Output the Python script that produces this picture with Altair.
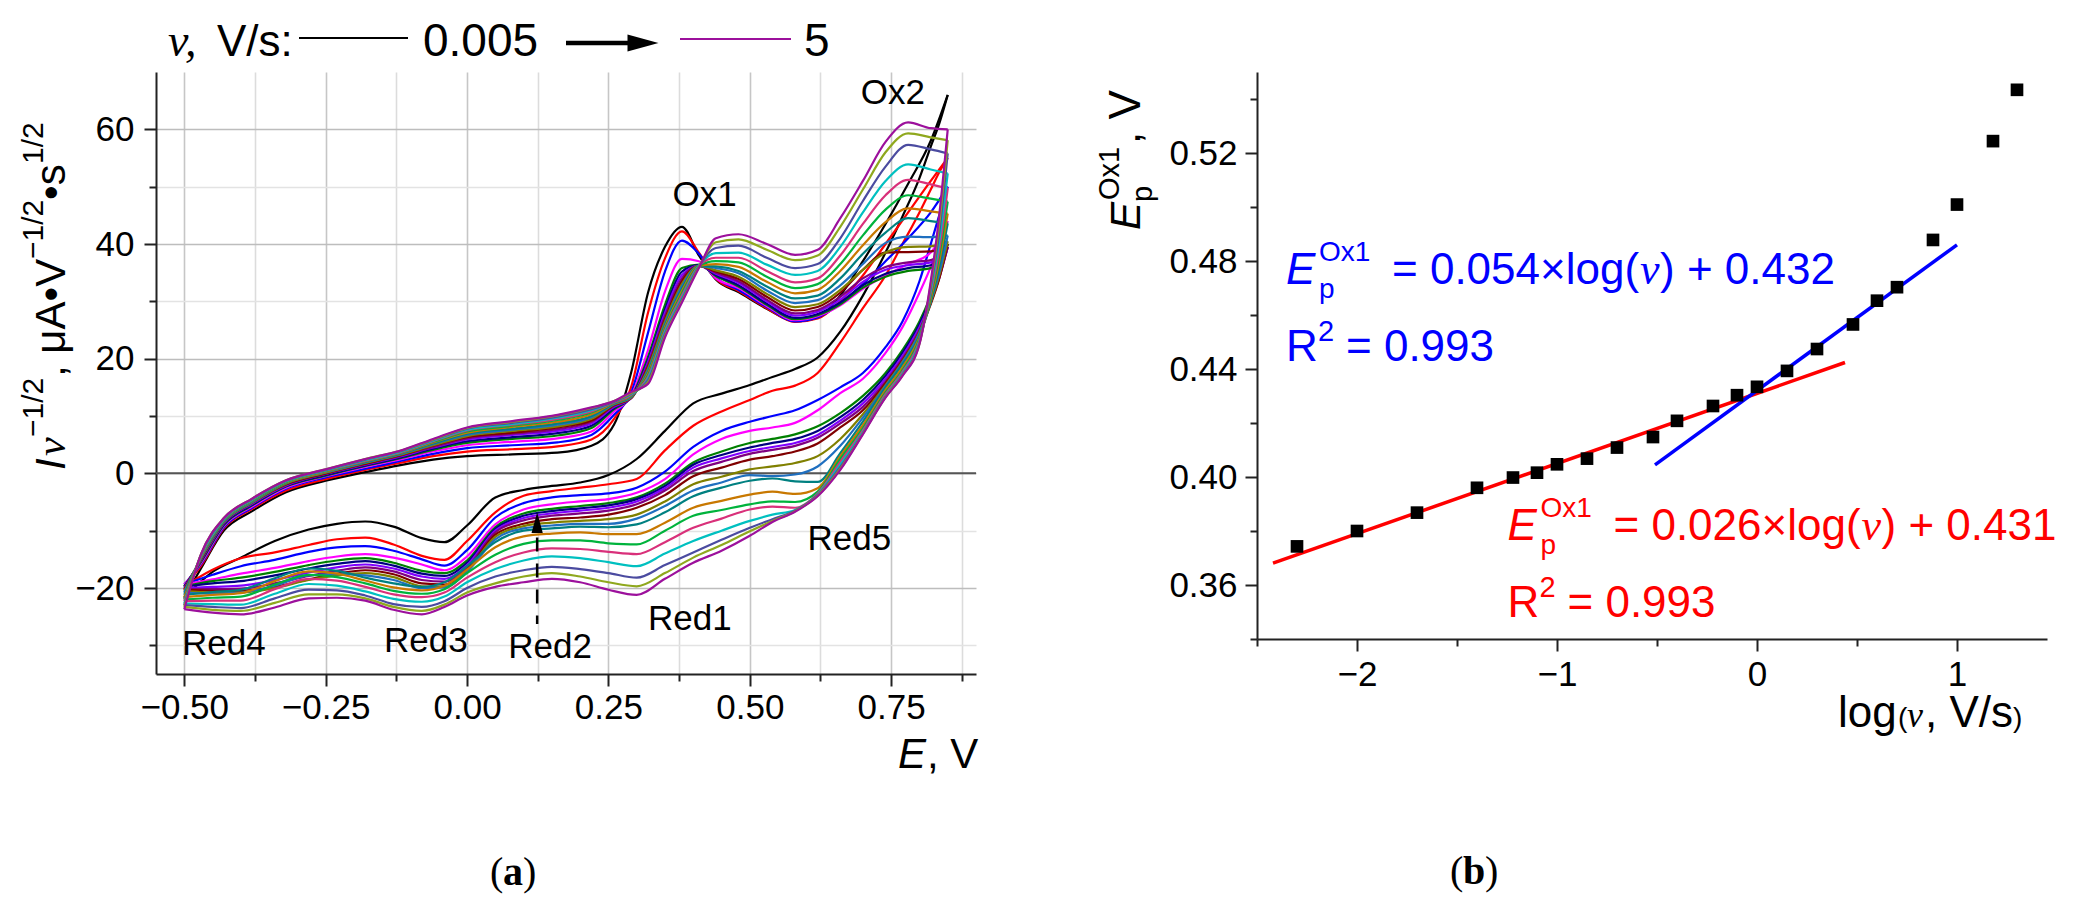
import pandas as pd
import altair as alt

SANS = "Liberation Sans"
SERIF = "Liberation Serif"

# ---------- panel (a): CVs, I*v^-1/2 vs E ----------
E_FWD = [-0.5, -0.47, -0.43, -0.38, -0.32, -0.25, -0.18, -0.12, -0.06, 0.0, 0.08, 0.16, 0.22, 0.26, 0.29,
         0.32, 0.35, 0.38, 0.41, 0.44, 0.48, 0.53, 0.58, 0.62, 0.66, 0.7, 0.74, 0.78, 0.82, 0.85]
E_REV = [0.85, 0.835, 0.82, 0.8, 0.77, 0.74, 0.7, 0.66, 0.62, 0.58, 0.54, 0.5, 0.45, 0.4, 0.35, 0.3, 0.25,
         0.2, 0.15, 0.1, 0.05, 0.0, -0.04, -0.08, -0.13, -0.18, -0.23, -0.28, -0.34, -0.4, -0.45, -0.5]

RATES = ["0.005", "0.01", "0.02", "0.04", "0.06", "0.08", "0.1", "0.14", "0.2", "0.3",
         "0.4", "0.6", "0.8", "1", "1.4", "2", "3", "4", "5"]
COLORS = ["#000000", "#ff0000", "#0000ff", "#ff00ff", "#008000", "#000080", "#8000ff", "#800080",
          "#800000", "#808000", "#1f6fbf", "#008080", "#c87800", "#00b33c", "#d9307a", "#00c0c0",
          "#4b4ba0", "#8fa81e", "#9c109c"]

# forward (anodic) sweeps, one per scan rate
fwd_0005 = [-21.7, -16.5, -10.0, -6.6, -3.3, -1.3, 0.2, 1.4, 2.4, 3.0, 3.3, 3.6, 4.8, 8.5, 17.5, 31.5, 39.5, 43.0, 38.0, 33.8, 31.6, 28.7, 26.5, 27.2, 31.0, 37.0, 43.5, 50.5, 58.0, 66.0]
fwd_001 = [-19.7, -16.1, -9.6, -6.2, -3.0, -1.0, 0.6, 1.8, 3.0, 3.8, 4.2, 4.7, 5.9, 9.5, 15.0, 28.0, 37.5, 42.2, 38.5, 34.0, 31.8, 28.8, 26.4, 27.0, 30.0, 34.5, 40.0, 45.5, 51.0, 55.0]
fwd_002 = [-19.4, -15.8, -9.4, -6.0, -2.7, -0.7, 0.8, 2.1, 3.4, 4.4, 4.9, 5.4, 6.7, 10.2, 14.0, 24.5, 35.2, 40.6, 38.3, 34.2, 32.0, 29.0, 26.5, 27.2, 29.6, 33.0, 37.0, 41.0, 45.5, 50.0]
fwd_004 = [-19.4, -15.6, -9.2, -5.8, -2.5, -0.5, 1.1, 2.4, 3.8, 4.9, 5.5, 6.1, 7.3, 10.8, 13.5, 21.5, 31.7, 37.4, 37.0, 34.0, 32.3, 29.2, 26.7, 27.4, 29.3, 32.2, 34.5, 36.5, 38.5, 44.0]
fwd_006 = [-19.7, -15.4, -9.0, -5.6, -2.3, -0.4, 1.3, 2.6, 4.1, 5.3, 6.0, 6.6, 7.9, 11.2, 13.3, 20.3, 29.4, 35.8, 36.4, 34.4, 32.6, 29.4, 26.9, 27.6, 29.5, 32.4, 34.3, 35.3, 35.8, 40.0]
fwd_008 = [-19.8, -15.2, -8.9, -5.5, -2.2, -0.3, 1.4, 2.7, 4.3, 5.6, 6.3, 7.0, 8.3, 11.4, 13.2, 19.8, 28.6, 35.2, 36.3, 34.6, 32.8, 29.6, 27.1, 27.8, 29.8, 32.8, 34.8, 35.8, 36.3, 39.5]
fwd_01 = [-20.0, -15.1, -8.7, -5.3, -2.1, -0.1, 1.5, 2.9, 4.5, 5.9, 6.7, 7.4, 8.7, 11.6, 13.1, 19.4, 28.0, 34.6, 36.2, 34.8, 33.2, 30.0, 27.5, 28.2, 30.3, 33.4, 35.5, 36.3, 36.8, 39.5]
fwd_014 = [-20.2, -15.0, -8.6, -5.2, -2.0, -0.1, 1.6, 3.0, 4.6, 6.1, 6.9, 7.7, 9.0, 11.8, 13.1, 19.0, 27.4, 34.0, 36.2, 35.0, 33.5, 30.3, 27.9, 28.5, 30.8, 34.0, 36.0, 36.8, 37.2, 39.5]
fwd_02 = [-20.3, -14.9, -8.5, -5.1, -1.9, 0.0, 1.7, 3.1, 4.8, 6.3, 7.1, 8.0, 9.2, 11.9, 13.1, 18.6, 26.9, 33.5, 36.2, 35.2, 33.9, 30.8, 28.4, 29.0, 31.5, 35.5, 38.5, 38.6, 38.7, 40.0]
fwd_03 = [-20.5, -14.8, -8.5, -5.1, -1.8, 0.1, 1.8, 3.2, 4.9, 6.5, 7.4, 8.2, 9.5, 12.0, 13.2, 18.3, 26.5, 33.0, 36.2, 35.4, 34.3, 31.3, 29.0, 29.5, 32.0, 35.5, 38.5, 39.5, 39.6, 40.5]
fwd_04 = [-20.8, -14.7, -8.4, -5.0, -1.7, 0.2, 1.9, 3.3, 5.1, 6.7, 7.6, 8.5, 9.8, 12.1, 13.3, 18.0, 26.1, 32.6, 36.2, 35.8, 34.9, 31.9, 29.7, 30.2, 32.8, 36.5, 40.2, 41.3, 41.2, 41.5]
fwd_06 = [-21.2, -14.6, -8.3, -4.9, -1.7, 0.3, 2.0, 3.4, 5.2, 6.9, 7.8, 8.7, 10.0, 12.2, 13.4, 17.7, 25.8, 32.2, 36.2, 36.1, 35.3, 32.6, 30.5, 31.0, 34.0, 38.3, 42.0, 44.5, 44.0, 43.6]
fwd_08 = [-21.6, -14.5, -8.2, -4.8, -1.6, 0.3, 2.1, 3.5, 5.4, 7.1, 8.1, 9.0, 10.3, 12.3, 13.5, 17.4, 25.5, 31.8, 36.2, 36.5, 36.0, 33.4, 31.4, 32.0, 35.3, 39.8, 43.8, 46.2, 45.7, 45.3]
fwd_1 = [-22.0, -14.4, -8.1, -4.7, -1.5, 0.4, 2.2, 3.6, 5.5, 7.3, 8.3, 9.3, 10.6, 12.4, 13.6, 17.1, 25.2, 31.4, 36.2, 37.0, 36.8, 34.3, 32.3, 33.0, 36.5, 41.5, 46.0, 48.5, 47.9, 47.4]
fwd_14 = [-22.3, -14.3, -8.0, -4.6, -1.4, 0.5, 2.2, 3.6, 5.6, 7.5, 8.5, 9.5, 10.8, 12.4, 13.7, 16.8, 24.9, 31.0, 36.2, 37.6, 37.6, 35.3, 33.3, 34.0, 38.0, 43.5, 48.5, 51.2, 50.4, 49.7]
fwd_2 = [-22.7, -14.2, -8.0, -4.6, -1.4, 0.5, 2.3, 3.7, 5.7, 7.6, 8.6, 9.7, 11.0, 12.5, 13.8, 16.5, 24.6, 30.6, 36.2, 38.4, 38.5, 36.4, 34.6, 35.3, 39.5, 45.5, 51.0, 53.9, 53.0, 52.3]
fwd_3 = [-23.0, -14.1, -7.9, -4.5, -1.3, 0.6, 2.4, 3.8, 5.8, 7.8, 8.8, 9.9, 11.2, 12.5, 13.9, 16.2, 24.3, 30.3, 36.1, 39.3, 39.7, 37.6, 35.8, 36.5, 41.0, 47.5, 53.5, 57.3, 56.5, 55.8]
fwd_4 = [-23.3, -14.0, -7.8, -4.4, -1.2, 0.7, 2.5, 3.9, 5.9, 7.9, 9.0, 10.1, 11.4, 12.6, 14.0, 15.9, 24.0, 30.0, 36.0, 40.3, 40.8, 39.0, 37.2, 38.0, 43.0, 49.5, 56.0, 59.3, 58.6, 58.1]
fwd_5 = [-23.7, -14.0, -7.8, -4.4, -1.2, 0.7, 2.5, 3.9, 6.0, 8.0, 9.1, 10.2, 11.5, 12.6, 14.2, 15.6, 23.7, 29.8, 35.8, 41.0, 41.7, 40.0, 38.1, 39.0, 44.5, 51.0, 57.8, 61.2, 60.2, 60.0]

# reverse (cathodic) sweeps
rev_0005 = [66.0, 61.0, 57.0, 51.5, 44.8, 38.5, 31.0, 24.7, 20.2, 18.2, 16.8, 15.4, 13.9, 12.2, 7.4, 2.5, -0.3, -1.6, -2.2, -2.9, -4.2, -9.1, -12.0, -11.3, -9.3, -8.4, -8.8, -9.8, -11.8, -14.7, -17.2, -21.7]
rev_001 = [55.0, 52.5, 49.5, 45.5, 40.0, 34.5, 28.8, 22.8, 17.5, 15.3, 14.4, 12.8, 10.8, 8.3, 4.0, -1.0, -1.9, -2.5, -3.1, -3.9, -6.8, -11.8, -15.1, -14.4, -12.4, -11.2, -11.5, -12.5, -13.8, -14.8, -16.8, -19.7]
rev_002 = [50.0, 45.0, 40.0, 33.5, 26.5, 22.0, 17.5, 15.0, 12.8, 11.0, 10.0, 9.0, 7.4, 4.6, 0.3, -2.5, -3.5, -3.8, -4.2, -5.2, -7.7, -13.4, -16.1, -15.0, -13.5, -12.7, -12.9, -13.7, -15.1, -16.2, -17.7, -19.4]
rev_004 = [44.0, 40.0, 36.0, 31.5, 25.5, 21.0, 16.5, 14.0, 11.0, 8.8, 8.0, 7.4, 6.0, 3.3, -1.0, -3.4, -4.5, -4.9, -5.4, -6.3, -8.9, -14.5, -16.9, -15.9, -14.7, -14.1, -14.5, -15.3, -16.5, -17.5, -18.5, -19.4]
rev_006 = [40.0, 35.0, 31.0, 26.5, 21.5, 17.5, 13.5, 10.5, 8.2, 6.8, 6.0, 5.3, 3.8, 1.9, -1.8, -4.2, -5.2, -5.7, -6.2, -7.0, -9.4, -15.2, -17.4, -17.0, -15.6, -14.8, -15.2, -16.0, -17.2, -18.2, -18.8, -19.7]
rev_008 = [39.5, 34.5, 30.5, 26.0, 21.0, 17.0, 12.8, 9.8, 7.4, 6.0, 5.3, 4.5, 3.2, 1.5, -2.2, -4.5, -5.6, -6.1, -6.6, -7.4, -9.7, -15.6, -17.9, -17.5, -16.1, -15.3, -15.8, -16.6, -17.8, -18.8, -19.2, -19.8]
rev_01 = [39.5, 34.2, 30.0, 25.5, 20.5, 16.5, 12.2, 9.2, 6.7, 5.3, 4.6, 3.9, 2.6, 1.0, -2.6, -4.9, -6.0, -6.5, -7.0, -7.8, -10.0, -16.0, -18.4, -18.0, -16.6, -15.9, -16.4, -17.3, -18.6, -19.6, -19.8, -20.0]
rev_014 = [39.5, 34.0, 29.8, 25.0, 20.0, 16.0, 11.6, 8.7, 6.2, 4.8, 4.1, 3.4, 2.0, 0.4, -3.0, -5.4, -6.5, -7.0, -7.4, -8.2, -10.3, -16.4, -18.9, -18.6, -17.1, -16.4, -17.0, -17.9, -19.2, -20.1, -20.2, -20.2]
rev_02 = [40.0, 34.0, 29.5, 24.7, 19.7, 15.7, 11.0, 8.0, 5.2, 3.8, 3.0, 2.4, 1.0, -0.5, -3.8, -6.0, -7.2, -7.7, -8.0, -8.8, -10.7, -16.8, -19.4, -19.2, -17.6, -16.9, -17.5, -18.5, -19.8, -20.5, -20.5, -20.3]
rev_03 = [40.5, 34.5, 29.8, 24.6, 19.5, 15.4, 10.3, 6.0, 3.0, 1.8, 1.2, 0.7, -0.6, -1.9, -4.9, -7.2, -8.0, -8.3, -8.6, -9.2, -11.1, -17.0, -19.8, -19.7, -18.1, -17.4, -17.8, -18.6, -20.0, -20.8, -20.8, -20.5]
rev_04 = [41.5, 35.0, 30.0, 24.5, 19.3, 15.2, 9.7, 4.8, 1.2, -0.2, -0.5, -0.3, -1.6, -3.0, -5.7, -7.9, -8.8, -8.8, -9.1, -9.6, -11.5, -17.2, -19.9, -20.0, -18.6, -17.8, -17.6, -17.8, -19.6, -20.8, -21.0, -20.8]
rev_06 = [43.6, 36.0, 30.0, 24.0, 19.0, 15.0, 9.0, 3.5, -1.5, -1.4, -0.9, -1.3, -2.5, -4.0, -6.8, -8.9, -9.4, -9.3, -9.6, -10.0, -12.0, -16.2, -19.0, -19.8, -19.2, -18.2, -17.0, -16.6, -18.3, -20.3, -20.7, -21.2]
rev_08 = [45.3, 37.0, 30.5, 23.8, 18.5, 14.5, 8.4, 3.0, -2.6, -3.6, -3.2, -3.7, -4.8, -6.0, -8.6, -10.6, -10.6, -10.3, -10.5, -11.0, -12.9, -16.8, -19.6, -20.4, -19.9, -18.7, -17.5, -17.1, -18.8, -20.9, -21.2, -21.6]
rev_1 = [47.4, 38.0, 31.0, 23.5, 18.0, 14.1, 7.9, 2.5, -3.2, -5.0, -4.9, -5.4, -6.4, -7.4, -10.0, -12.4, -12.2, -11.7, -11.7, -12.3, -14.2, -17.4, -20.2, -21.0, -20.5, -19.2, -18.1, -17.7, -19.4, -21.5, -21.7, -22.0]
rev_14 = [49.7, 39.0, 31.5, 23.2, 17.7, 13.8, 7.5, 2.0, -3.5, -6.0, -5.8, -6.3, -7.9, -9.5, -12.0, -14.1, -13.7, -13.2, -13.1, -13.8, -15.5, -18.2, -20.8, -21.6, -21.1, -19.8, -18.7, -18.4, -20.2, -22.2, -22.2, -22.3]
rev_2 = [52.3, 40.5, 32.0, 23.0, 17.4, 13.5, 7.2, 1.5, -3.7, -6.4, -7.2, -8.3, -10.0, -11.8, -14.0, -16.2, -15.5, -14.8, -14.5, -15.2, -16.7, -19.0, -21.5, -22.4, -21.9, -20.6, -19.6, -19.3, -21.0, -22.9, -22.8, -22.7]
rev_3 = [55.8, 42.0, 32.5, 22.8, 17.2, 13.4, 7.0, 1.1, -3.8, -6.5, -8.0, -9.5, -11.6, -13.8, -16.0, -18.2, -17.4, -16.7, -16.3, -16.9, -18.0, -20.0, -22.3, -23.3, -22.8, -21.3, -20.4, -20.3, -21.8, -23.5, -23.3, -23.0]
rev_4 = [58.1, 43.5, 33.0, 22.6, 17.1, 13.3, 6.9, 0.8, -3.9, -6.6, -8.3, -10.1, -12.5, -14.7, -17.4, -19.7, -19.0, -18.0, -17.4, -18.0, -19.2, -20.8, -22.9, -24.0, -23.3, -21.8, -21.1, -21.1, -22.6, -24.0, -23.8, -23.3]
rev_5 = [60.0, 45.0, 33.5, 22.5, 17.0, 13.2, 6.8, 0.6, -4.0, -6.7, -8.5, -10.9, -13.5, -15.6, -18.4, -21.2, -20.3, -19.0, -18.4, -19.0, -19.8, -21.3, -23.3, -24.6, -23.8, -22.2, -21.7, -21.8, -23.4, -24.6, -24.3, -23.7]

FWD = [fwd_0005, fwd_001, fwd_002, fwd_004, fwd_006, fwd_008, fwd_01, fwd_014, fwd_02, fwd_03,
       fwd_04, fwd_06, fwd_08, fwd_1, fwd_14, fwd_2, fwd_3, fwd_4, fwd_5]
REV = [rev_0005, rev_001, rev_002, rev_004, rev_006, rev_008, rev_01, rev_014, rev_02, rev_03,
       rev_04, rev_06, rev_08, rev_1, rev_14, rev_2, rev_3, rev_4, rev_5]

# ---------- panel (b): peak potential of Ox1 vs log(v) ----------
LOGV = [-2.3, -2.0, -1.7, -1.4, -1.22, -1.1, -1.0, -0.85, -0.7, -0.52, -0.4, -0.22, -0.1, 0.0,
        0.15, 0.3, 0.48, 0.6, 0.7, 0.88, 1.0, 1.18, 1.3]
EP = [0.3743, 0.380, 0.3868, 0.396, 0.3998, 0.4016, 0.4047, 0.4068, 0.4109, 0.4148, 0.4208, 0.4263,
      0.4303, 0.4334, 0.4393, 0.4474, 0.4565, 0.4653, 0.4703, 0.4878, 0.5009, 0.5244, 0.5434]
FIT_SLOW_X = [-2.42, 0.44]
FIT_SLOW_Y = [0.3681, 0.4424]
FIT_FAST_X = [-0.51, 1.0]
FIT_FAST_Y = [0.4045, 0.486]

rows = []
for rate, f, r in zip(RATES, FWD, REV):
    assert len(f) == len(E_FWD) and len(r) == len(E_REV), rate
    rows += [{"E": e, "I": i, "rate": rate, "sweep": "fwd"} for e, i in zip(E_FWD, f)]
    rows += [{"E": e, "I": i, "rate": rate, "sweep": "rev"} for e, i in zip(E_REV, r)]
cv = pd.DataFrame(rows)


def piece(s, x, y, size, font=SANS, style="normal", weight="normal", color="black",
          align="left", baseline="alphabetic", angle=0, dx=0, dy=0):
    return alt.Chart(pd.DataFrame({"t": [s]})).mark_text(
        font=font, fontSize=size, fontStyle=style, fontWeight=weight, color=color,
        align=align, baseline=baseline, angle=angle, dx=dx, dy=dy
    ).encode(x=x, y=y, text="t:N")


def px(v):
    return alt.value(v)


def one():
    return alt.Chart(pd.DataFrame({"k": [0]}))


AX = dict(labelFont=SANS, labelFontSize=35, labelColor="black", domainColor="#222222", domainWidth=2,
          tickColor="#222222", tickWidth=2, labelFlush=False, labelOverlap=False, title=None)

MAJ_X = "abs(datum.value*4 - round(datum.value*4)) < 0.001"
MAJ_Y = "datum.value % 20 == 0"

x_left = alt.Axis(
    values=[-0.5, -0.375, -0.25, -0.125, 0.0, 0.125, 0.25, 0.375, 0.5, 0.625, 0.75, 0.875],
    labelExpr=MAJ_X + " ? replace(format(datum.value, '.2f'), '-', '\u2212') : ''",
    tickSize={"condition": {"test": MAJ_X, "value": 12}, "value": 7},
    grid=True, gridWidth=1.6,
    gridColor={"condition": {"test": MAJ_X, "value": "#c6c6c6"}, "value": "#dcdcdc"},
    labelPadding=4, **AX)
y_left = alt.Axis(
    values=[-30, -20, -10, 0, 10, 20, 30, 40, 50, 60],
    labelExpr=MAJ_Y + " ? replace(format(datum.value, 'd'), '-', '\u2212') : ''",
    tickSize={"condition": {"test": MAJ_Y, "value": 12}, "value": 7},
    grid=True, gridWidth=1.6,
    gridColor={"condition": {"test": MAJ_Y, "value": "#bdbdbd"}, "value": "#e3e3e3"},
    labelPadding=10, **AX)

zero = one().mark_rule(color="#555555", strokeWidth=2).encode(y=alt.Y(datum=0))

curves = alt.Chart(cv).mark_line(strokeWidth=2.2, interpolate="monotone").encode(
    x=alt.X("E:Q", scale=alt.Scale(domain=[-0.55, 0.9], nice=False, zero=False), axis=x_left),
    y=alt.Y("I:Q", scale=alt.Scale(domain=[-35, 70], nice=False, zero=False), axis=y_left),
    color=alt.Color("rate:N", scale=alt.Scale(domain=RATES, range=COLORS), legend=None),
    detail="sweep:N",
)

peak_labels = [
    piece("Ox1", alt.X(datum=0.42), alt.Y(datum=46.7), 35, align="center"),
    piece("Ox2", alt.X(datum=0.753), alt.Y(datum=64.5), 35, align="center"),
    piece("Red4", alt.X(datum=-0.43), alt.Y(datum=-31.7), 35, align="center"),
    piece("Red3", alt.X(datum=-0.073), alt.Y(datum=-31.2), 35, align="center"),
    piece("Red2", alt.X(datum=0.147), alt.Y(datum=-32.2), 35, align="center"),
    piece("Red1", alt.X(datum=0.394), alt.Y(datum=-27.3), 35, align="center"),
    piece("Red5", alt.X(datum=0.676), alt.Y(datum=-13.3), 35, align="center"),
]

red2_head = one().mark_point(shape="M-0.55,1L0,-1L0.55,1Z", filled=True, size=420, color="black",
                             opacity=1, strokeWidth=0).encode(x=alt.X(datum=0.124), y=alt.Y(datum=-8.6))
red2_stem = one().mark_rule(color="black", strokeWidth=2.5, strokeDash=[14, 12]).encode(
    x=alt.X(datum=0.124), y=alt.Y(datum=-11.2), y2=alt.Y2(datum=-26.3))

# scan-rate key above the plot
key = [
    piece("v,", px(12), px(-16), 46, font=SERIF, style="italic"),
    piece("V/s:", px(61), px(-16), 44),
    one().mark_rule(color="black", strokeWidth=2).encode(x=px(143), x2=px(252), y=px(-34)),
    piece("0.005", px(267), px(-16), 46),
    one().mark_rule(color="black", strokeWidth=4.5).encode(x=px(410), x2=px(480), y=px(-29)),
    one().mark_point(shape="M-1,-0.55L1,0L-1,0.55Z", filled=True, size=960, color="black",
                     opacity=1, strokeWidth=0).encode(x=px(487), y=px(-29)),
    one().mark_rule(color="#9c109c", strokeWidth=2).encode(x=px(524), x2=px(635), y=px(-33)),
    piece("5", px(648), px(-16), 46),
]

# y title:  I v^-1/2 , uA V^-1/2 s^1/2  (rotated)
ytitle_a = [
    piece("I", px(-91), px(398), 42, style="italic", angle=270),
    piece("v", px(-91), px(384), 42, font=SERIF, style="italic", angle=270),
    piece("\u22121/2", px(-113), px(365), 30, angle=270),
    piece(", \u03bcA\u2022V", px(-91), px(305), 42, angle=270),
    piece("\u22121/2", px(-113), px(187), 30, angle=270),
    piece("\u2022s", px(-91), px(128), 42, angle=270),
    piece("1/2", px(-113), px(92), 30, angle=270),
]
xtitle_a = [
    piece("E", px(742), px(696), 42, style="italic"),
    piece(", V", px(771), px(696), 42),
]
tag_a = [
    piece("(", px(334), px(813), 40, font=SERIF),
    piece("a", px(347), px(813), 40, font=SERIF, weight="bold"),
    piece(")", px(367), px(813), 40, font=SERIF),
]

left = alt.layer(zero, curves, *peak_labels, red2_head, red2_stem, *key, *ytitle_a, *xtitle_a, *tag_a
                 ).properties(width=820, height=602)

# ---------- panel (b) ----------
MAJ_XB = "abs(datum.value - round(datum.value)) < 0.001"
MAJ_YB = "abs((datum.value - 0.36)/0.04 - round((datum.value - 0.36)/0.04)) < 0.001"
x_right = alt.Axis(
    values=[-2.5, -2.0, -1.5, -1.0, -0.5, 0.0, 0.5, 1.0],
    labelExpr=MAJ_XB + " ? replace(format(datum.value, 'd'), '-', '\u2212') : ''",
    tickSize={"condition": {"test": MAJ_XB, "value": 12}, "value": 7},
    grid=False, labelPadding=6, **AX)
y_right = alt.Axis(
    values=[0.34, 0.36, 0.38, 0.40, 0.42, 0.44, 0.46, 0.48, 0.50, 0.52, 0.54],
    labelExpr=MAJ_YB + " ? format(datum.value, '.2f') : ''",
    tickSize={"condition": {"test": MAJ_YB, "value": 12}, "value": 7},
    grid=False, labelPadding=8, **AX)

xs = alt.Scale(domain=[-2.5, 1.45], nice=False, zero=False)
ys = alt.Scale(domain=[0.34, 0.55], nice=False, zero=False)

pts = alt.Chart(pd.DataFrame({"logv": LOGV, "Ep": EP})).mark_square(
    size=160, color="black", opacity=1).encode(
    x=alt.X("logv:Q", scale=xs, axis=x_right),
    y=alt.Y("Ep:Q", scale=ys, axis=y_right),
)
fit_slow = alt.Chart(pd.DataFrame({"x": FIT_SLOW_X, "y": FIT_SLOW_Y})).mark_line(
    strokeWidth=3.5, color="#ff0000").encode(x="x:Q", y="y:Q")
fit_fast = alt.Chart(pd.DataFrame({"x": FIT_FAST_X, "y": FIT_FAST_Y})).mark_line(
    strokeWidth=3.5, color="#0000ff").encode(x="x:Q", y="y:Q")


def equation(x0, y1, y2, color, slope, icpt):
    X, Y1, Y2 = alt.X(datum=x0), alt.Y(datum=y1), alt.Y(datum=y2)
    return [
        piece("E", X, Y1, 44, style="italic", color=color),
        piece("p", X, Y1, 28, color=color, dx=33, dy=14),
        piece("Ox1", X, Y1, 28, color=color, dx=33, dy=-23),
        piece("= " + slope + "\u00d7log(", X, Y1, 44, color=color, dx=106),
        piece("v", X, Y1, 44, font=SERIF, style="italic", color=color, dx=354),
        piece(") + " + icpt, X, Y1, 44, color=color, dx=374),
        piece("R", X, Y2, 44, color=color),
        piece("2", X, Y2, 29, color=color, dx=32, dy=-20),
        piece("= 0.993", X, Y2, 44, color=color, dx=60),
    ]


eq_fast = equation(-2.355, 0.4715, 0.443, "#0000ff", "0.054", "0.432")
eq_slow = equation(-1.2475, 0.3767, 0.348, "#ff0000", "0.026", "0.431")

ytitle_b = [
    piece("E", px(-117), px(158), 42, style="italic", angle=270),
    piece("p", px(-105), px(130), 29, angle=270),
    piece("Ox1", px(-138), px(128), 29, angle=270),
    piece(", V", px(-117), px(72), 44, angle=270),
]
xtitle_b = [
    piece("log", px(581), px(655), 44),
    piece("(", px(641), px(655), 28),
    piece("v", px(650), px(655), 36, font=SERIF, style="italic"),
    piece(", V/s", px(668), px(655), 44),
    piece(")", px(756), px(655), 28),
]
tag_b = [
    piece("(", px(193), px(812), 40, font=SERIF),
    piece("b", px(206), px(812), 40, font=SERIF, weight="bold"),
    piece(")", px(228), px(812), 40, font=SERIF),
]

right = alt.layer(fit_slow, fit_fast, pts, *eq_fast, *eq_slow, *ytitle_b, *xtitle_b, *tag_b
                  ).properties(width=790, height=567)

chart = alt.hconcat(left, right, spacing=281, bounds="flush").properties(
    padding={"left": 10, "top": 10, "right": 5, "bottom": 4}
).configure_view(stroke="transparent")

chart.save("out.html", embed_options={"renderer": "svg", "actions": False})
